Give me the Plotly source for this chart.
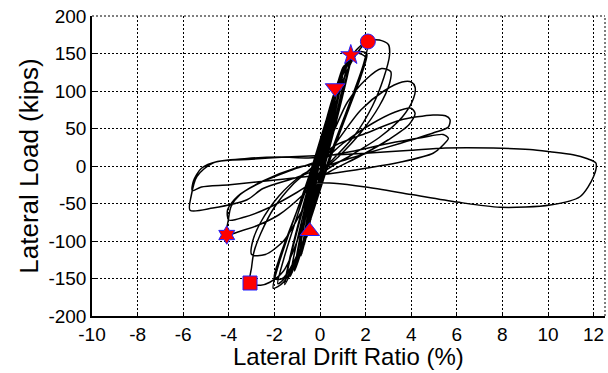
import plotly.graph_objects as go

# Hysteresis response: lateral drift ratio (%) and lateral load (kips)
drift = [
    0.0, 0.12, 0.25, 0.18, 0.05, -0.12, -0.28, -0.2, -0.05,
    0.1, 0.26, 0.17, 0.04, -0.14, -0.3, -0.21, -0.06,
    0.15, 0.36, 0.28, 0.06, -0.18, -0.4, -0.32, -0.08,
    0.2, 0.5, 0.4, 0.1, -0.25, -0.55, -0.45, -0.12,
    0.22, 0.52, 0.42, 0.12, -0.27, -0.57, -0.46, -0.14,
    0.26, 0.62, 0.5, 0.13, -0.3, -0.68, -0.55, -0.15,
    0.3, 0.75, 0.62, 0.15, -0.35, -0.8, -0.66, -0.18,
    0.32, 0.78, 0.64, 0.16, -0.37, -0.83, -0.68, -0.2,
    0.4, 0.9, 0.76, 0.18, -0.44, -0.96, -0.8, -0.22,
    0.45, 1.0, 0.85, 0.2, -0.5, -1.1, -0.92, -0.25,
    0.47, 1.05, 0.88, 0.22, -0.52, -1.12, -0.95, -0.27,
    0.55, 1.2, 1.02, 0.26, -0.6, -1.3, -1.1, -0.3,
    0.6, 1.35, 1.15, 0.3, -0.65, -1.5, -1.28, -0.35,
    0.62, 1.4, 1.2, 0.32, -0.68, -1.55, -1.32, -0.38,
    0.8, 1.6, 2.1, 1.9, 0.45, -0.85, -1.6, -2.05, -1.8, -0.5,
    0.85, 1.65, 2.05, 1.85, 0.5, -0.9, -1.65, -2.0, -1.75, -0.45,
    0.82, 1.62, 2.0, 1.8, 0.48, -0.88, -1.62, -1.85, -1.6, -0.42,
    0.4, 0.9, 1.5, 2.1, 2.6, 3.0, 3.05, 2.8, 2.3, 1.5, 0.6, 0.0,
    -0.5, -1.0, -1.6, -2.2, -2.6, -3.07, -3.0, -2.9, -2.6, -2.0, -1.2, -0.3,
    0.5, 1.2, 2.0, 2.7, 3.1, 3.05, 2.6, 1.8, 0.8, 0.0,
    -0.8, -1.6, -2.4, -3.0, -2.95, -2.6, -1.8, -0.8, 0.0,
    0.8, 1.8, 2.8, 3.6, 4.0, 4.17, 4.1, 3.6, 2.6, 1.4, 0.3,
    -0.8, -1.8, -2.8, -3.6, -4.09, -4.02, -3.9, -3.5, -2.5, -1.0, 0.0,
    1.0, 2.2, 3.3, 4.0, 4.17, 3.9, 3.0, 1.8, 0.4,
    -1.0, -2.2, -3.3, -4.0, -4.05, -3.6, -2.6, -1.2, 0.0,
    0.58, 2.05, 3.5, 4.96, 5.5, 5.7, 5.63, 4.96, 3.5, 2.05, 0.58,
    -1.0, -2.5, -3.2, -4.7, -5.7, -5.65, -5.4, -4.7, -3.2, -1.75, -0.3,
    1.5, 3.0, 4.5, 5.4, 5.63, 5.4, 4.96, 3.5, 2.0, 0.5,
    -1.75, -3.95, -5.2, -5.6, -5.55, -5.2, -4.5, -3.0, -1.5,
    0.0, 2.0, 4.0, 5.5, 7.6, 9.2, 10.1, 11.1, 11.7, 12.1, 12.0, 11.4,
    10.1, 7.9, 6.0, 4.0, 2.0, 0.6, -0.5,
]
load = [
    0, 30, 50, 30, 0, -30, -52, -30, 0,
    25, 52, 28, 0, -32, -54, -31, 0,
    35, 68, 45, 3, -38, -72, -48, -3,
    40, 85, 60, 5, -45, -92, -65, -5,
    42, 88, 62, 6, -47, -95, -66, -6,
    48, 98, 70, 7, -52, -105, -75, -7,
    55, 110, 82, 8, -60, -118, -88, -8,
    57, 113, 84, 9, -62, -120, -90, -9,
    66, 124, 92, 9, -70, -128, -96, -9,
    75, 132, 100, 10, -80, -138, -105, -10,
    77, 134, 102, 11, -82, -140, -107, -11,
    86, 141, 110, 11, -88, -147, -113, -11,
    95, 148, 118, 12, -95, -155, -120, -12,
    97, 150, 120, 13, -97, -158, -122, -13,
    110, 155, 166, 135, 15, -110, -155, -163, -130, -15,
    112, 152, 150, 125, 14, -112, -150, -150, -120, -14,
    111, 150, 145, 120, 14, -111, -152, -157, -125, -14,
    50, 105, 145, 166, 168, 162, 148, 118, 80, 40, 10, -8,
    -50, -100, -140, -155, -159, -156, -135, -115, -90, -55, -25, 0,
    40, 85, 115, 130, 126, 110, 80, 45, 12, -10,
    -60, -100, -118, -118, -100, -75, -40, -12, 2,
    35, 75, 100, 112, 112, 105, 90, 65, 38, 15, -5,
    -40, -65, -80, -88, -92, -72, -54, -38, -20, -2, 5,
    30, 55, 72, 77, 70, 55, 35, 14, -8,
    -35, -55, -68, -72, -58, -40, -22, -5, 8,
    26, 44, 61, 68, 67, 62, 52, 44, 30, 17, 3,
    -15, -30, -45, -56, -59, -40, -14, 4, 10, 12, 11,
    20, 30, 38, 42, 37, 28, 17, 5, -3, -10,
    -18, -25, -28, -33, -20, -3, 6, 9, 12,
    14, 17, 21, 24, 24, 22, 19, 15, 10, 4, -14, -41,
    -52, -55, -48, -38, -28, -23, -22,
]

# Event markers (drift %, load kips)
mk_names = ["peak_pos", "star_pos", "yield_pos", "yield_neg", "star_neg", "peak_neg"]
mk_drift = [2.1, 1.35, 0.66, -0.45, -4.09, -3.07]
mk_load = [166, 148, 104, -87, -92, -156]
mk_symbol = ["circle", "star", "triangle-down", "triangle-up", "hexagram", "square"]
mk_size = [15, 15, 17, 17, 14, 14]

x_ticks = [-10, -8, -6, -4, -2, 0, 2, 4, 6, 8, 10, 12]
y_ticks = [-200, -150, -100, -50, 0, 50, 100, 150, 200]
x_ticktext = [str(v) for v in x_ticks]
y_ticktext = [str(v) for v in y_ticks]
x_title = "Lateral Drift Ratio (%)"
y_title = "Lateral Load (kips)"

FONT = "Liberation Sans, Arial"

fig = go.Figure()
fig.add_trace(go.Scatter(x=drift, y=load, mode="lines",
                         line=dict(color="black", width=1.5, shape="spline", smoothing=0.8),
                         showlegend=False, hoverinfo="skip"))
fig.add_trace(go.Scatter(x=mk_drift, y=mk_load, mode="markers",
                         marker=dict(symbol=mk_symbol, size=mk_size, color="#ff0000", opacity=1,
                                     line=dict(color="#2020ff", width=1)),
                         text=mk_names, showlegend=False))

grid = dict(showgrid=True, gridcolor="black", gridwidth=1, griddash="2px,2px",
            zeroline=False, showline=True, linecolor="black", linewidth=1.5,
            ticks="inside", ticklen=4, tickcolor="black",
            tickfont=dict(family=FONT, size=19, color="black"))
fig.update_xaxes(range=[-10, 12.5], tickvals=x_ticks, ticktext=x_ticktext, **grid)
fig.update_yaxes(range=[-200, 200], tickvals=y_ticks, ticktext=y_ticktext, **grid,
                 title=dict(text=y_title, standoff=2,
                            font=dict(family=FONT, size=26, color="black")))

fig.add_annotation(text=x_title, xref="paper", yref="paper", x=0.5, y=-0.1883,
                   xanchor="center", yanchor="bottom", showarrow=False,
                   font=dict(family=FONT, size=24, color="black"))

# dotted box edges on top/right like the reference
fig.add_shape(type="line", xref="paper", yref="paper", x0=0, x1=1, y0=1, y1=1,
              line=dict(color="black", width=1, dash="2px,2px"))
fig.add_shape(type="line", xref="paper", yref="paper", x0=1, x1=1, y0=0, y1=1,
              line=dict(color="black", width=1, dash="2px,2px"))

fig.update_layout(width=608, height=373, margin=dict(l=92, r=3, t=16, b=57),
                  plot_bgcolor="white", paper_bgcolor="white")
fig.write_html("out.html")
